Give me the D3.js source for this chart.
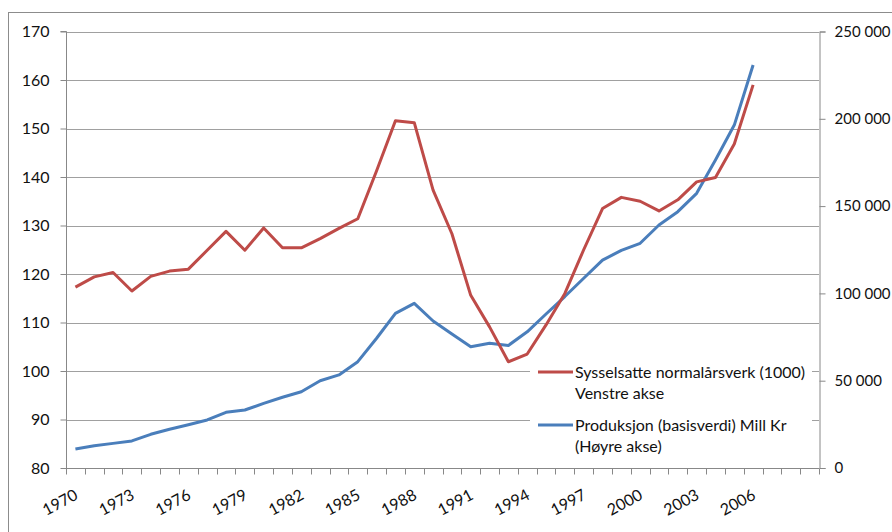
<!DOCTYPE html>
<html><head><meta charset="utf-8">
<script src="https://cdn.jsdelivr.net/npm/d3@7"></script>
<style>
html,body{margin:0;padding:0;background:#fff;}
svg text{font-family:Lato,"Open Sans",sans-serif;fill:#111;}
</style></head>
<body><svg id="c" width="892" height="532"></svg>
<script>
const years = d3.range(1970, 2010);
const xTickLabels = ["1970","1973","1976","1979","1982","1985","1988","1991","1994","1997","2000","2003","2006"];
const leftTicks = [80,90,100,110,120,130,140,150,160,170];
const rightTicks = [0,50000,100000,150000,200000,250000];
const seriesYears = d3.range(1970, 2007);
const employment = [117.3,119.4,120.3,116.5,119.5,120.6,121.0,124.9,128.8,124.9,129.5,125.4,125.4,127.3,129.4,131.4,141.3,151.6,151.2,137.3,128.3,115.6,109.1,101.9,103.5,109.5,116.0,125.0,133.5,135.8,135.0,133.0,135.3,139.0,139.9,146.8,159.0];
const production = [10900,12800,14100,15500,19300,22200,24800,27500,31900,33200,37000,40500,43700,50000,53300,60900,74300,88600,94300,84200,76700,69500,71400,70200,78000,88200,98200,108700,119100,124600,128700,139200,146800,157300,176400,196400,230800];
const legendLabels = [["Sysselsatte normalårsverk (1000)","Venstre akse"],["Produksjon (basisverdi) Mill Kr","(Høyre akse)"]];

const svg = d3.select("#c");
const L = 66, R = 819, T = 31.5, B = 468;
const red = "#BE4B48", blue = "#4A7EBB";
const FS = "16px";

svg.append("rect").attr("x",8.5).attr("y",12.5).attr("width",900).attr("height",540)
  .attr("fill","none").attr("stroke","#8c8c8c").attr("stroke-width",1);

const x = d3.scaleBand().domain(years).range([L, R]).padding(0);
const yL = d3.scaleLinear().domain([80,170]).range([B, T]);
const yR = d3.scaleLinear().domain([0,250000]).range([B, T]);

// gridlines
svg.append("g").selectAll("line").data(leftTicks.slice(1)).join("line")
  .attr("x1",L).attr("x2",R).attr("y1",d=>Math.round(yL(d))+0.5).attr("y2",d=>Math.round(yL(d))+0.5)
  .attr("stroke","#a0a0a0").attr("stroke-width",1.2);

// left axis
const gl = svg.append("g").attr("transform",`translate(${L+0.5},0)`)
  .call(d3.axisLeft(yL).tickValues(leftTicks).tickSize(6).tickPadding(11).tickFormat(d3.format("d")));
gl.selectAll("text").style("font-size",FS).style("font-family","Lato").attr("fill","#111");
gl.selectAll("line,path").attr("stroke","#888");
gl.select(".domain").attr("d",`M-6,${T}H0V${B}`);

// right axis
const gr = svg.append("g").attr("transform",`translate(${R+0.5},0)`)
  .call(d3.axisRight(yR).tickValues(rightTicks).tickSize(6).tickPadding(9)
    .tickFormat(d=>d3.format(",")(d).replace(/,/g," ")));
gr.selectAll("text").style("font-size","15px").style("font-family","Lato").attr("fill","#111");
gr.selectAll("line,path").attr("stroke","#888");

// bottom axis
const gb = svg.append("g").attr("transform",`translate(0,${B+0.5})`);
gb.append("line").attr("x1",L).attr("x2",R).attr("stroke","#888");
const tickPos = years.map(y=>x(y)).concat([R]);
gb.selectAll("line.t").data(tickPos).join("line").attr("class","t")
  .attr("x1",d=>Math.round(d)+0.5).attr("x2",d=>Math.round(d)+0.5).attr("y1",0).attr("y2",6).attr("stroke","#888");
gb.selectAll("text").data(xTickLabels).join("text")
  .attr("transform",d=>`translate(${x(+d)+x.bandwidth()/2+1},${25}) rotate(-28)`)
  .attr("text-anchor","end").attr("dy","0.35em")
  .style("font-size",FS).attr("fill","#111").text(d=>d);

// lines
const line = (ys)=> d3.line().x((d,i)=>x(seriesYears[i])+x.bandwidth()/2).y(d=>ys(d));
svg.append("path").datum(production).attr("d",line(yR)).attr("fill","none")
  .attr("stroke",blue).attr("stroke-width",3).attr("stroke-linejoin","round");
svg.append("path").datum(employment).attr("d",line(yL)).attr("fill","none")
  .attr("stroke",red).attr("stroke-width",3).attr("stroke-linejoin","round");

// legend
const lg = svg.append("g");
lg.append("rect").attr("x",530).attr("y",365).attr("width",282).attr("height",98).attr("fill","#fff");
const ly = [372, 425];
const colors = [red, blue];
legendLabels.forEach((lab,i)=>{
  lg.append("line").attr("x1",538).attr("x2",573).attr("y1",ly[i]).attr("y2",ly[i]).attr("stroke",colors[i]).attr("stroke-width",3);
  lab.forEach((t,j)=>{
    lg.append("text").attr("x",575).attr("y",ly[i]+j*21).attr("dy","0.35em")
      .style("font-size",FS).attr("fill","#111").text(t);
  });
});
</script></body></html>
